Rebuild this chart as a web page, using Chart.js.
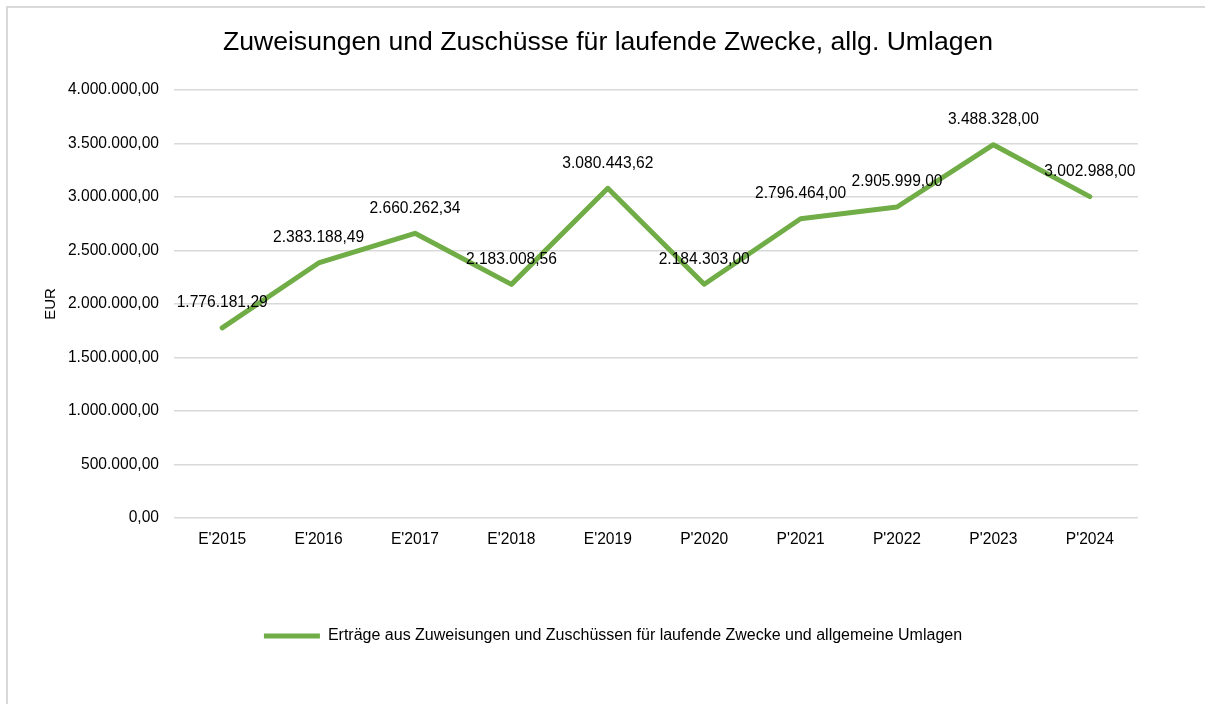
<!DOCTYPE html>
<html><head><meta charset="utf-8">
<script src="https://cdn.jsdelivr.net/npm/chart.js@4/dist/chart.umd.min.js"></script>
<style>html,body{margin:0;padding:0;background:#fff}#wrap{width:1205px;height:704px;position:relative}</style>
</head><body><div id="wrap"><canvas id="c" width="1205" height="704"></canvas></div>
<script>
const categories = ["E'2015","E'2016","E'2017","E'2018","E'2019","P'2020","P'2021","P'2022","P'2023","P'2024"];
const seriesValues = [1776181.29, 2383188.49, 2660262.34, 2183008.56, 3080443.62, 2184303.00, 2796464.00, 2905999.00, 3488328.00, 3002988.00];
const seriesName = "Erträge aus Zuweisungen und Zuschüssen für laufende Zwecke und allgemeine Umlagen";
const chartTitle = "Zuweisungen und Zuschüsse für laufende Zwecke, allg. Umlagen";
const yAxisTitle = "EUR";
const yTicks = [0, 500000, 1000000, 1500000, 2000000, 2500000, 3000000, 3500000, 4000000];

function fmtDE(v){
  const neg = v < 0; v = Math.abs(v);
  let s = v.toFixed(2); let [i, d] = s.split('.');
  i = i.replace(/\B(?=(\d{3})+(?!\d))/g, '.');
  return (neg?'-':'') + i + ',' + d;
}
const FONT = "'Liberation Sans', Arial, sans-serif";
const GREEN = '#70AD47';
const FS = 15.6;

const frame = {
  id:'frame',
  beforeDraw(chart){
    const ctx = chart.ctx; ctx.save();
    ctx.fillStyle='#fff'; ctx.fillRect(0,0,chart.width,chart.height);
    ctx.strokeStyle='#d9d9d9'; ctx.lineWidth=2;
    ctx.beginPath(); ctx.moveTo(7,704); ctx.lineTo(7,7); ctx.lineTo(1205,7); ctx.stroke();
    ctx.restore();
  }
};
const shiftBoxes = {
  id:'shiftBoxes',
  afterLayout(chart){
    const t = chart.titleBlock; if (t){ t.left += 20; t.right += 20; }
    const l = chart.legend; if (l){ l.left += 25; l.right += 25; }
  }
};
const dataLabels = {
  id:'dataLabels',
  afterDatasetsDraw(chart){
    const ctx = chart.ctx; const meta = chart.getDatasetMeta(0);
    ctx.save(); ctx.font = FS + 'px ' + FONT; ctx.fillStyle = '#000';
    ctx.textAlign='center'; ctx.textBaseline='middle';
    meta.data.forEach((pt, i) => {
      ctx.fillText(fmtDE(chart.data.datasets[0].data[i]), pt.x, pt.y - 25);
    });
    ctx.restore();
  }
};

new Chart(document.getElementById('c'), {
  type:'line',
  data:{ labels: categories, datasets:[{
    label: seriesName, data: seriesValues, borderColor: GREEN, backgroundColor: GREEN,
    borderWidth: 5, pointRadius: 0, pointHoverRadius: 0, tension: 0,
    borderCapStyle:'round', borderJoinStyle:'round'
  }]},
  options:{
    responsive:false, animation:false, devicePixelRatio:1,
    layout:{ padding:{ left:38, right:67, top:0, bottom:50 } },
    plugins:{
      tooltip:{enabled:false},
      title:{ display:true, text: chartTitle, color:'#000', font:{family:FONT, size:26.6, weight:'normal'}, padding:{top:27, bottom:31} },
      legend:{ position:'bottom',
        labels:{ color:'#000', font:{family:FONT, size:16}, boxWidth:56, boxHeight:5, padding:10,
          generateLabels(chart){ return [{text: seriesName, fillStyle: GREEN, strokeStyle: GREEN, lineWidth:0, datasetIndex:0}]; } } }
    },
    scales:{
      x:{ offset:true, grid:{display:false, drawTicks:false, offset:true}, border:{display:false},
        ticks:{ color:'#000', font:{family:FONT, size:FS}, padding:12, maxRotation:0 },
        afterFit(s){ s.height = 100; } },
      y:{ min:0, max:4000000, grid:{color:'#d9d9d9', lineWidth:1.5, drawTicks:false}, border:{display:false},
        afterBuildTicks(s){ s.ticks = yTicks.map(v=>({value:v})); },
        ticks:{ color:'#000', font:{family:FONT, size:FS}, padding:15, callback:(v)=>fmtDE(v) },
        title:{ display:true, text:yAxisTitle, color:'#000', font:{family:FONT, size:15}, padding:4 },
        afterFit(s){ s.width = 136; } }
    }
  },
  plugins:[frame, shiftBoxes, dataLabels]
});
</script></body></html>
